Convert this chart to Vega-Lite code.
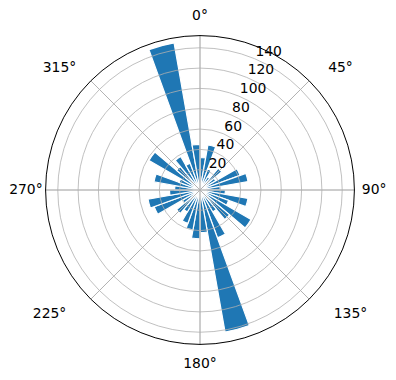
{
  "$schema": "https://vega.github.io/schema/vega-lite/v6.json",
  "width": 400,
  "height": 380,
  "autosize": "none",
  "padding": 0,
  "background": "white",
  "config": {"view": {"stroke": null}, "text": {"font": "DejaVu Sans", "fontSize": 13.9, "color": "black"}},
  "datasets": {
    "bars": [
      {"start": 0, "end": 10, "count": 32}, {"start": 10, "end": 20, "count": 45}, {"start": 20, "end": 30, "count": 22}, {"start": 30, "end": 40, "count": 15},
      {"start": 40, "end": 50, "count": 28}, {"start": 50, "end": 60, "count": 18}, {"start": 60, "end": 70, "count": 42}, {"start": 70, "end": 80, "count": 48},
      {"start": 80, "end": 90, "count": 20}, {"start": 90, "end": 100, "count": 25}, {"start": 100, "end": 110, "count": 48}, {"start": 110, "end": 120, "count": 30},
      {"start": 120, "end": 130, "count": 58}, {"start": 130, "end": 140, "count": 38}, {"start": 140, "end": 150, "count": 25}, {"start": 150, "end": 160, "count": 50},
      {"start": 160, "end": 170, "count": 142}, {"start": 170, "end": 180, "count": 42}, {"start": 180, "end": 190, "count": 48}, {"start": 190, "end": 200, "count": 40},
      {"start": 200, "end": 210, "count": 35}, {"start": 210, "end": 220, "count": 25}, {"start": 220, "end": 230, "count": 30}, {"start": 230, "end": 240, "count": 20},
      {"start": 240, "end": 250, "count": 48}, {"start": 250, "end": 260, "count": 52}, {"start": 260, "end": 270, "count": 30}, {"start": 270, "end": 280, "count": 25},
      {"start": 280, "end": 290, "count": 46}, {"start": 290, "end": 300, "count": 22}, {"start": 300, "end": 310, "count": 58}, {"start": 310, "end": 320, "count": 30},
      {"start": 320, "end": 330, "count": 38}, {"start": 330, "end": 340, "count": 28}, {"start": 340, "end": 350, "count": 147}, {"start": 350, "end": 360, "count": 45}
    ],
    "rings": [{"r": 20}, {"r": 40}, {"r": 60}, {"r": 80}, {"r": 100}, {"r": 120}, {"r": 140}],
    "spokes": [{"angle": 0}, {"angle": 45}, {"angle": 90}, {"angle": 135}, {"angle": 180}, {"angle": 225}, {"angle": 270}, {"angle": 315}],
    "axisLabels": [{"angle": 0, "label": "0°"}, {"angle": 90, "label": "90°"}, {"angle": 180, "label": "180°"}, {"angle": 270, "label": "270°"}],
    "upperLabels": [{"angle": 45, "label": "45°"}, {"angle": 315, "label": "315°"}],
    "lowerLabels": [{"angle": 135, "label": "135°"}, {"angle": 225, "label": "225°"}],
    "rlabels": [{"r": 20, "label": "20"}, {"r": 40, "label": "40"}, {"r": 60, "label": "60"}, {"r": 80, "label": "80"}, {"r": 100, "label": "100"}, {"r": 120, "label": "120"}, {"r": 140, "label": "140"}]
  },
  "encoding": {
    "theta": {"type": "quantitative", "stack": null, "scale": {"domain": [0, 360], "range": [0, 6.283185307179586]}},
    "radius": {"type": "quantitative", "stack": null, "scale": {"type": "linear", "domain": [0, 152], "range": [0, 154.4], "zero": true}}
  },
  "layer": [
    {
      "data": {"name": "bars"},
      "mark": {"type": "arc", "color": "#1f77b4", "stroke": "white", "strokeWidth": 1.2},
      "encoding": {
        "theta": {"field": "start", "type": "quantitative", "stack": null},
        "theta2": {"field": "end"},
        "radius": {"field": "count", "type": "quantitative", "stack": null}
      }
    },
    {
      "data": {"name": "rings"},
      "mark": {"type": "arc", "filled": false, "stroke": "#b0b0b0", "strokeWidth": 0.8},
      "encoding": {
        "theta": {"datum": 0, "type": "quantitative", "stack": null},
        "theta2": {"datum": 360},
        "radius": {"field": "r", "type": "quantitative", "stack": null},
        "radius2": {"datum": 0}
      }
    },
    {
      "data": {"name": "spokes"},
      "mark": {"type": "arc", "filled": false, "stroke": "#b0b0b0", "strokeWidth": 0.8},
      "encoding": {
        "theta": {"field": "angle", "type": "quantitative", "stack": null},
        "theta2": {"field": "angle"},
        "radius": {"datum": 152, "type": "quantitative", "stack": null},
        "radius2": {"datum": 0}
      }
    },
    {
      "data": {"values": [{"r": 152}]},
      "mark": {"type": "arc", "filled": false, "stroke": "black", "strokeWidth": 1},
      "encoding": {
        "theta": {"datum": 0, "type": "quantitative", "stack": null},
        "theta2": {"datum": 360},
        "radius": {"field": "r", "type": "quantitative", "stack": null},
        "radius2": {"datum": 0}
      }
    },
    {
      "data": {"name": "axisLabels"},
      "mark": {"type": "text", "align": "center", "baseline": "middle"},
      "encoding": {
        "theta": {"field": "angle", "type": "quantitative", "stack": null},
        "radius": {"datum": 171.4, "type": "quantitative", "stack": null},
        "text": {"field": "label"}
      }
    },
    {
      "data": {"name": "upperLabels"},
      "mark": {"type": "text", "align": "center", "baseline": "middle", "dy": 18.5},
      "encoding": {
        "theta": {"field": "angle", "type": "quantitative", "stack": null},
        "radius": {"datum": 195.6, "type": "quantitative", "stack": null},
        "text": {"field": "label"}
      }
    },
    {
      "data": {"name": "lowerLabels"},
      "mark": {"type": "text", "align": "center", "baseline": "middle", "dy": -26.5},
      "encoding": {
        "theta": {"field": "angle", "type": "quantitative", "stack": null},
        "radius": {"datum": 209.5, "type": "quantitative", "stack": null},
        "text": {"field": "label"}
      }
    },
    {
      "data": {"name": "rlabels"},
      "mark": {"type": "text", "align": "left", "baseline": "bottom", "dx": 1},
      "encoding": {
        "theta": {"datum": 22.5, "type": "quantitative", "stack": null},
        "radius": {"field": "r", "type": "quantitative", "stack": null},
        "text": {"field": "label"}
      }
    }
  ]
}
